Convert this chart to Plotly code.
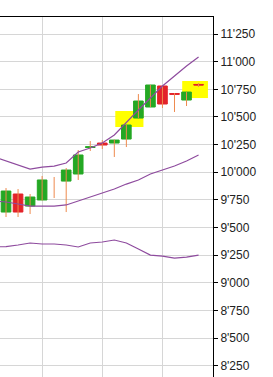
import plotly.graph_objects as go

# ---- data ----
idx = list(range(17))
opens  = [9640, 9803, 9694, 9749, 9870, 9920, 9984, 10224, 10264, 10264, 10300, 10490, 10590, 10780, 10712, 10653, 10794]
highs  = [9857, 9848, 9803, 9966, 9957, 10038, 10201, 10282, 10291, 10295, 10427, 10707, 10789, 10780, 10716, 10725, 10807]
lows   = [9595, 9595, 9622, 9745, 9767, 9640, 9930, 10192, 10210, 10138, 10228, 10490, 10590, 10581, 10545, 10599, 10771]
closes = [9830, 9640, 9776, 9930, 9870, 10020, 10156, 10230, 10246, 10291, 10427, 10644, 10789, 10617, 10705, 10725, 10789]

band_x = list(range(-1, 17))
upper  = [10138, 10101, 10065, 10029, 10047, 10056, 10083, 10183, 10219, 10264, 10337, 10454, 10563, 10671, 10780, 10870, 10961, 11042]
middle = [9740, 9731, 9713, 9694, 9694, 9694, 9704, 9740, 9776, 9812, 9848, 9893, 9930, 9984, 10020, 10056, 10101, 10156]
lower  = [9324, 9328, 9342, 9360, 9351, 9351, 9342, 9324, 9360, 9369, 9387, 9360, 9305, 9251, 9242, 9224, 9233, 9251]

# highlighted zones (index range, price range)
hl_x0 = [9.08, 14.64]
hl_x1 = [11.42, 16.78]
hl_y0 = [10409, 10671]
hl_y1 = [10554, 10825]

y_ticks = [8250, 8500, 8750, 9000, 9250, 9500, 9750, 10000, 10250, 10500, 10750, 11000, 11250]
x_grid = [3, 8, 13]

GREEN = "#24A824"
RED = "#E3232A"
WICK = "#EE8A4E"
PURPLE = "#8E4B9E"

fig = go.Figure()

# wicks
wx, wy = [], []
for i, h, l in zip(idx, highs, lows):
    wx += [i, i, None]
    wy += [l, h, None]
fig.add_trace(go.Scatter(x=wx, y=wy, mode="lines", line=dict(color=WICK, width=1),
                         hoverinfo="skip", showlegend=False))

# bodies (skip exact zero-range candles)
bx, bo, bc = [], [], []
for i, o, c in zip(idx, opens, closes):
    if o != c:
        bx.append(i); bo.append(o); bc.append(c)
fig.add_trace(go.Candlestick(
    x=bx, open=bo, close=bc,
    high=[max(o, c) for o, c in zip(bo, bc)],
    low=[min(o, c) for o, c in zip(bo, bc)],
    increasing=dict(fillcolor=GREEN, line=dict(color=GREEN, width=1)),
    decreasing=dict(fillcolor=RED, line=dict(color=RED, width=1)),
    whiskerwidth=0, showlegend=False))

for band in (upper, middle, lower):
    fig.add_trace(go.Scatter(x=band_x, y=band, mode="lines",
                             line=dict(color=PURPLE, width=1.2),
                             hoverinfo="skip", showlegend=False))

for x0, x1, y0, y1 in zip(hl_x0, hl_x1, hl_y0, hl_y1):
    fig.add_shape(type="rect", x0=x0, x1=x1, y0=y0, y1=y1, xref="x", yref="y",
                  fillcolor="#FFFF00", line=dict(width=0), layer="between")

fig.update_layout(
    width=273, height=377,
    margin=dict(l=0, r=60, t=17, b=0),
    paper_bgcolor="white", plot_bgcolor="white",
    separators=".'",
    boxgap=0.2, boxgroupgap=0,
    showlegend=False,
    xaxis=dict(range=[-0.5, 17.2], side="top", showline=True, linecolor="black", linewidth=1,
               tickvals=x_grid, showticklabels=False, ticks="",
               showgrid=True, gridcolor="#D6D6D6", gridwidth=1, zeroline=False,
               rangeslider=dict(visible=False), fixedrange=True),
    yaxis=dict(range=[8148, 11404], side="right", showline=True, linecolor="black", linewidth=1,
               tickvals=y_ticks, tickformat=",d", ticks="outside", ticklen=4, tickcolor="black",
               tickfont=dict(family="Liberation Sans, Arial", size=12, color="#222222"),
               showgrid=True, gridcolor="#D6D6D6", gridwidth=1, zeroline=False, fixedrange=True),
)

fig.write_html("out.html")
